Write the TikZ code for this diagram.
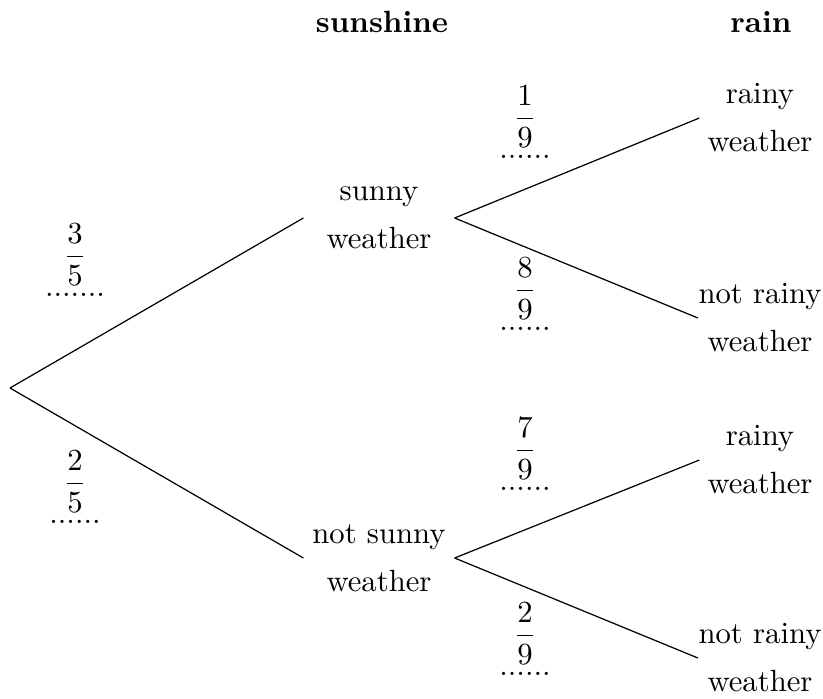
\documentclass[tikz,border=0pt]{standalone}
\usepackage{amsmath}
\begin{document}
\begin{tikzpicture}[x=0.3257pt,y=-0.3257pt,
  txt/.style={align=center,inner sep=0pt,font={\fontsize{10pt}{15.6pt}\selectfont}},
  mid/.style={txt,minimum width=48.86pt},
  leaf/.style={txt,minimum width=39.08pt},
  prob/.style={align=center,inner sep=0pt,anchor=north,font={\fontsize{10pt}{12pt}\selectfont}},
  head/.style={inner sep=0pt,anchor=base,font=\bfseries}]
\useasboundingbox (0,0) rectangle (823,698);
\node[head] (h1) at (382,32) {sunshine};
\node[head] (h2) at (761,32) {rain};
\coordinate (r) at (10,388);
\node[mid] (s) at (379,218) {sunny\\weather};
\node[mid] (ns) at (379,558) {not sunny\\weather};
\node[leaf] (sr) at (760,118) {rainy\\weather};
\node[leaf] (snr) at (760,318) {not rainy\\weather};
\node[leaf] (nsr) at (760,460) {rainy\\weather};
\node[leaf] (nsnr) at (760,658) {not rainy\\weather};
\draw (r) -- (s.west);
\draw (r) -- (ns.west);
\draw (s.east) -- (sr.west);
\draw (s.east) -- (snr.west);
\draw (ns.east) -- (nsr.west);
\draw (ns.east) -- (nsnr.west);
\node[prob] (p1) at (75,223) {$\dfrac{3}{5}$\\[-1.5pt].......};
\node[prob] (p2) at (75,450) {$\dfrac{2}{5}$\\[-1.5pt]......};
\node[prob] (p3) at (525,85) {$\dfrac{1}{9}$\\[-1.5pt]......};
\node[prob] (p4) at (525,257) {$\dfrac{8}{9}$\\[-1.5pt]......};
\node[prob] (p5) at (525,417) {$\dfrac{7}{9}$\\[-1.5pt]......};
\node[prob] (p6) at (525,602) {$\dfrac{2}{9}$\\[-1.5pt]......};
\end{tikzpicture}
\end{document}
